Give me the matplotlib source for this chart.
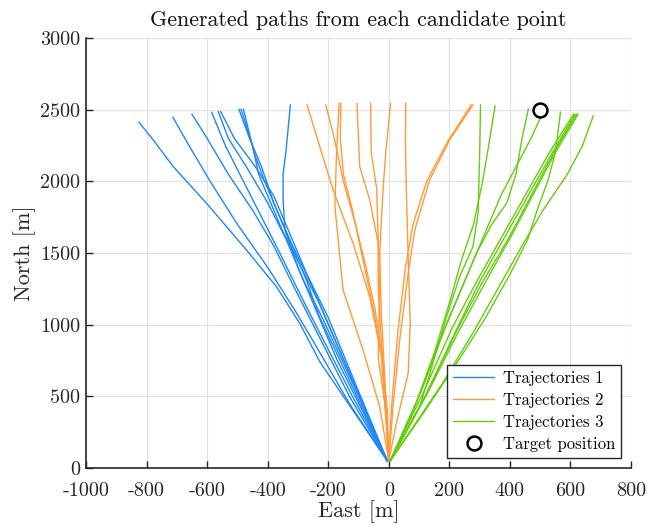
import matplotlib
matplotlib.use("Agg")
import matplotlib.pyplot as plt

plt.rcParams['font.family'] = ['cmr10', 'DejaVu Serif']
plt.rcParams['axes.formatter.use_mathtext'] = True

# Trajectories 1 (blue): (x, y) waypoints
traj1 = [
    ([-5, -228, -294, -371, -470, -602, -712, -778, -825], [50, 742, 1009, 1265, 1521, 1847, 2103, 2289, 2412]),
    ([-5, -130, -240, -310, -400, -500, -590, -660, -713], [50, 450, 850, 1100, 1400, 1700, 2000, 2250, 2447]),
    ([-5, -130, -250, -310, -380, -450, -530, -600, -650], [50, 500, 1000, 1250, 1550, 1800, 2050, 2300, 2468]),
    ([-5, -120, -230, -290, -360, -420, -480, -540, -585], [50, 500, 950, 1200, 1500, 1750, 2000, 2250, 2482]),
    ([-5, -110, -220, -280, -340, -400, -470, -530, -563], [50, 550, 1050, 1300, 1600, 1850, 2100, 2300, 2486]),
    ([-5, -200, -270, -330, -380, -440, -510, -555], [50, 1050, 1350, 1650, 1900, 2100, 2300, 2486]),
    ([-5, -230, -270, -320, -380, -420, -460, -495], [50, 1060, 1300, 1550, 1850, 2100, 2300, 2503]),
    ([-5, -230, -290, -350, -400, -430, -450, -488], [50, 1150, 1400, 1650, 1900, 2050, 2250, 2503]),
    ([-5, -260, -320, -370, -410, -445, -480], [50, 1300, 1560, 1800, 2000, 2200, 2503]),
    ([-5, -170, -250, -300, -343, -349, -349, -340, -325], [50, 750, 1150, 1400, 1661, 1870, 2056, 2200, 2533]),
]

# Trajectories 2 (orange)
traj2 = [
    ([0, -5, -24, -63, -118, -184, -270], [50, 400, 777, 1196, 1568, 1940, 2533]),
    ([0, -20, -45, -75, -110, -150, -180, -208], [50, 750, 1100, 1400, 1700, 2000, 2300, 2533]),
    ([0, -30, -85, -151, -178, -173, -164], [50, 428, 823, 1242, 1824, 2173, 2545]),
    ([0, -25, -55, -90, -120, -150, -160, -158], [50, 800, 1150, 1500, 1800, 2050, 2300, 2545]),
    ([0, -10, -35, -30, -35, -63, -96, -105], [50, 400, 777, 1242, 1568, 1870, 2103, 2545]),
    ([0, -10, -25, -35, -35, -40, -58, -60], [50, 500, 900, 1250, 1600, 1950, 2200, 2545]),
    ([0, -15, -25, -30, -19, -10, 6], [50, 700, 1100, 1500, 1940, 2200, 2545]),
    ([0, 25, 64, 71, 64, 58, 55, 56], [50, 312, 660, 1009, 1475, 1940, 2250, 2545]),
    ([0, 14, 36, 64, 86, 135, 201, 278], [50, 428, 893, 1359, 1661, 2010, 2289, 2533]),
    ([0, 10, 30, 55, 80, 125, 195, 272], [50, 450, 950, 1400, 1700, 2000, 2280, 2533]),
]

# Trajectories 3 (green)
traj3 = [
    ([5, 102, 146, 191, 234, 278, 295, 300, 303], [50, 428, 730, 1056, 1335, 1544, 1777, 2173, 2533]),
    ([5, 90, 150, 200, 240, 280, 310, 330, 351], [50, 450, 800, 1150, 1450, 1700, 2000, 2250, 2526]),
    ([5, 90, 160, 230, 290, 340, 390, 420, 440, 461], [50, 450, 850, 1200, 1500, 1700, 1850, 2050, 2300, 2505]),
    ([5, 110, 190, 260, 320, 370, 420, 470, 510], [50, 550, 1000, 1350, 1650, 1900, 2100, 2300, 2486]),
    ([5, 120, 230, 320, 400, 460, 490, 525, 550, 567], [50, 400, 750, 1050, 1350, 1600, 1800, 2000, 2200, 2482]),
    ([5, 120, 220, 300, 380, 460, 540, 615], [50, 500, 950, 1300, 1600, 1900, 2200, 2468]),
    ([5, 125, 225, 310, 395, 470, 545, 620], [50, 520, 960, 1300, 1600, 1900, 2200, 2468]),
    ([5, 130, 230, 320, 405, 480, 550, 625], [50, 530, 950, 1300, 1620, 1920, 2200, 2468]),
    ([5, 115, 210, 290, 370, 450, 530, 610], [50, 530, 980, 1300, 1600, 1900, 2200, 2468]),
    ([5, 180, 280, 360, 440, 510, 590, 640, 675], [50, 600, 950, 1250, 1550, 1800, 2050, 2250, 2456]),
]

target_x = [500]
target_y = [2500]

xticks = [-1000, -800, -600, -400, -200, 0, 200, 400, 600, 800]
xtick_labels = ['-1000', '-800', '-600', '-400', '-200', '0', '200', '400', '600', '800']
yticks = [0, 500, 1000, 1500, 2000, 2500, 3000]
ytick_labels = ['0', '500', '1000', '1500', '2000', '2500', '3000']

c1 = '#1f87f5'
c2 = '#ff9a3a'
c3 = '#66cc0e'

fig = plt.figure(figsize=(6.49, 5.24), dpi=100)
ax = fig.add_axes([86/649, 56/524, 545/649, 430/524])

for i, (xs, ys) in enumerate(traj1):
    ax.plot(xs, ys, color=c1, lw=1.0, label='Trajectories 1' if i == 0 else None)
for i, (xs, ys) in enumerate(traj2):
    ax.plot(xs, ys, color=c2, lw=1.0, label='Trajectories 2' if i == 0 else None)
for i, (xs, ys) in enumerate(traj3):
    ax.plot(xs, ys, color=c3, lw=1.0, label='Trajectories 3' if i == 0 else None)
ax.plot(target_x, target_y, 'o', ms=10, mfc='white', mec='black', mew=1.8,
        linestyle='none', label='Target position', zorder=5)

ax.set_xlim(-1000, 800)
ax.set_ylim(0, 3000)
ax.set_xticks(xticks)
ax.set_xticklabels(xtick_labels)
ax.set_yticks(yticks)
ax.set_yticklabels(ytick_labels)
ax.grid(True, color='#e3e3e3', lw=0.9)
ax.set_axisbelow(True)
for s in ['top', 'right']:
    ax.spines[s].set_visible(False)
for s in ['left', 'bottom']:
    ax.spines[s].set_color('#262626')
    ax.spines[s].set_linewidth(1.2)
ax.tick_params(direction='in', length=5, width=1.0, colors='#262626',
               labelsize=14.5, labelcolor='#262626')
ax.tick_params(axis='x', pad=10)
ax.tick_params(axis='y', pad=4)

ax.set_title('Generated paths from each candidate point', fontsize=15.8, color='#111111', pad=9)
ax.set_xlabel('East [m]', fontsize=16, color='#262626', labelpad=0)
ax.set_ylabel('North [m]', fontsize=16, color='#262626', labelpad=3)

leg = ax.legend(loc='lower right', fontsize=12, frameon=True, fancybox=False,
                edgecolor='#262626', framealpha=1, borderpad=0.35, labelspacing=0.4,
                handlelength=2.5, handletextpad=0.5, borderaxespad=0.6)
leg.get_frame().set_linewidth(1.0)

fig.savefig('out.png', dpi=100)
